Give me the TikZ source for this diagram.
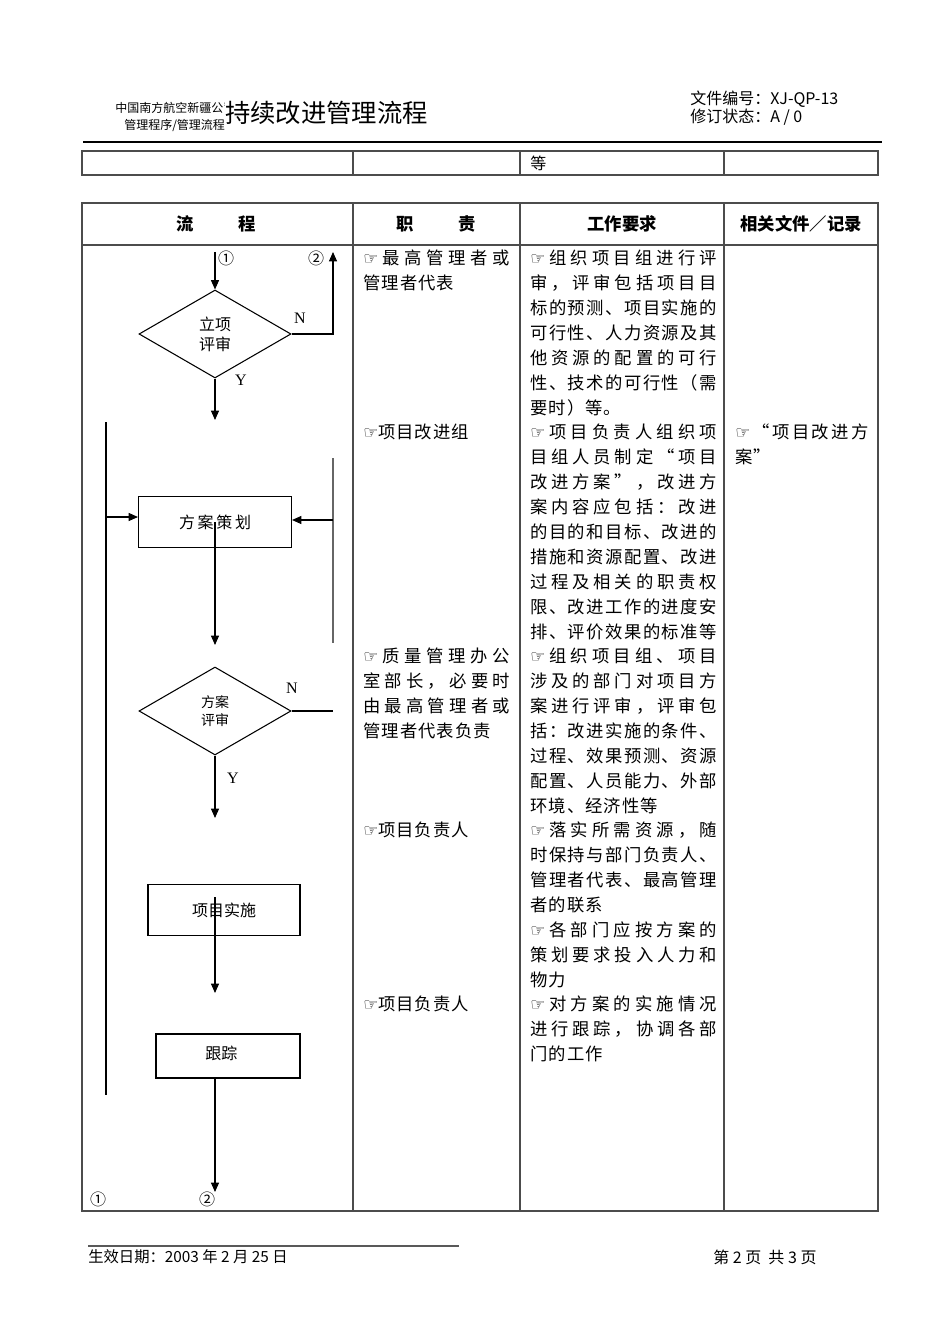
\documentclass[tikz,border=0pt]{standalone}
\usepackage{fontspec}
\setmainfont{Noto Sans CJK SC}
\newfontfamily\cellfont[LetterSpace=6]{Noto Sans CJK SC}
\newfontfamily\symfont{DejaVu Sans}
\newfontfamily\latfont{Liberation Serif}
\usetikzlibrary{shapes.geometric,arrows.meta,positioning}

\newcommand{\hand}{{\symfont\fontsize{12.5}{12}\selectfont ☞}}
% spread the characters of one line over the given width
\ExplSyntaxOn
\NewDocumentCommand{\jl}{O{140pt}m}{
  \tl_set:Ne \l_tmpa_tl { \tl_tail:n {#2} }
  \makebox[#1][s]{ \tl_head:n {#2} \tl_map_inline:Nn \l_tmpa_tl { \hfil ##1 } }
}
\ExplSyntaxOff

\tikzset{
  grid/.style={draw=black!70,line width=1.1pt},
  flow/.style={line width=0.8pt,-{Triangle[length=7pt,width=6pt]}},
  plain/.style={line width=0.8pt},
  decision/.style={draw,line width=0.8pt,diamond,minimum width=114pt,minimum height=66pt,inner sep=0pt,align=center},
  stepbox/.style={draw,line width=0.8pt,rectangle,inner sep=0pt,align=center,font=\fontsize{12}{14}\selectfont},
  cell/.style={anchor=north west,inner sep=0pt,align=left,font=\cellfont\fontsize{13}{18.7}\selectfont},
  yn/.style={inner sep=0pt,font=\latfont\fontsize{12}{12}\selectfont},
  circ/.style={inner sep=0pt,font=\fontsize{12}{12}\selectfont},
  head/.style={inner sep=0pt,font=\bfseries\fontsize{13}{13}\selectfont}
}

\begin{document}
\begin{tikzpicture}[x=0.75pt,y=-0.75pt]
\useasboundingbox (0,0) rectangle (950,1344);

% page header
\node[anchor=west,inner sep=0pt,font=\fontsize{9}{9}\selectfont] (org) at (115,108) {中国南方航空新疆公司};
\node[anchor=west,inner sep=0pt,font=\fontsize{9}{9}\selectfont] (kind) at (124,126) {管理程序/管理流程};
\node[anchor=west,inner sep=0pt,fill=white,font=\fontsize{19}{20}\selectfont] (title) at (225,113) {持续改进管理流程};
\node[anchor=west,inner sep=0pt,font=\fontsize{12}{12}\selectfont] (docno) at (690,99) {文件编号：XJ-QP-13};
\node[anchor=west,inner sep=0pt,font=\fontsize{12}{12}\selectfont] (rev) at (690,117) {修订状态：A / 0};
\draw[line width=1.5pt] (83,142) -- (882,142);

% tail of the previous table
\draw[grid] (82,151) rectangle (878,175);
\foreach \cx in {353,520,724} \draw[grid] (\cx,151) -- (\cx,175);
\node[anchor=west,inner sep=0pt,font=\fontsize{12}{12}\selectfont] (etc) at (530,163) {等};

% main table
\draw[grid] (82,203) rectangle (878,1211);
\draw[grid] (82,245) -- (878,245);
\foreach \cx in {353,520,724} \draw[grid] (\cx,203) -- (\cx,1211);
\node[head] (h1) at (216,224) {流\hspace{2.6em}程};
\node[head] (h2) at (436,224) {职\hspace{2.6em}责};
\node[head] (h3) at (622,224) {工作要求};
\node[head] (h4) at (801,224) {相关文件／记录};

% flow chart
\coordinate (in1) at (215,252);
\coordinate (back2) at (333,252);
\node[decision,font=\fontsize{12}{15}\selectfont] (review1) at (215,334) {立项\\评审};
\coordinate (yes1) at (215,420);
\draw[flow] (in1) -- (review1.north);
\draw[flow] (review1.east) -| (back2);
\draw[flow] (review1.south) -- (yes1);
\node[circ] at (226,258) {①};
\node[circ] at (316,258) {②};
\node[yn] at (300,318) {N};
\node[yn] at (241,380) {Y};

\node[stepbox,minimum width=114.75pt,minimum height=38.25pt] (plan) at (215,522) {方\,案\,策\,划};
\coordinate (lft1) at (106,422);
\coordinate (lft2) at (106,1095);
\coordinate (lftin) at (106,517);
\coordinate (rgt1) at (333,458);
\coordinate (rgt2) at (333,643);
\coordinate (rgtin) at (333,520);
\draw[plain] (lft1) -- (lft2);
\draw[line width=1.2pt,draw=black!60] (rgt1) -- (rgt2);
\draw[flow] (lftin) -- (lftin -| plan.west);
\draw[flow] (rgtin) -- (rgtin -| plan.east);
\coordinate (down2) at (215,645);
\draw[flow] (plan.center) -- (down2);

\node[decision,font=\fontsize{10.5}{13.5}\selectfont] (review2) at (215,711) {方案\\评审};
\coordinate (no2) at (333,711);
\coordinate (yes2) at (215,818);
\draw[plain] (review2.east) -- (no2);
\draw[flow] (review2.south) -- (yes2);
\node[yn] at (292,688) {N};
\node[yn] at (233,778) {Y};

\node[stepbox,minimum width=114pt,minimum height=38.25pt] (impl) at (224,910) {项目实施};
\coordinate (impl1) at (215,897);
\coordinate (impl2) at (215,993);
\draw[flow] (impl1) -- (impl2);

\node[stepbox,minimum width=108pt,minimum height=33pt] (track) at (228,1056) {\raisebox{5pt}{跟踪}\hspace{10pt}};
\coordinate (out2) at (215,1192);
\draw[flow] (track.south -| out2) -- (out2);
\node[circ] at (98,1199) {①};
\node[circ] at (207,1199) {②};

% duties
\node[cell] (duty1) at (363,250) {\jl[110pt]{\hand 最高管理者或}\\管理者代表};
\node[cell] (duty2) at (363,424) {\hand 项目改进组};
\node[cell] (duty3) at (363,648) {\jl[110pt]{\hand 质量管理办公}\\\jl[110pt]{室部长，必要时}\\\jl[110pt]{由最高管理者或}\\管理者代表负责};
\node[cell] (duty4) at (363,822) {\hand 项目负责人};
\node[cell] (duty5) at (363,996) {\hand 项目负责人};

% work requirements
\node[cell] (req1) at (530,250) {\jl{\hand 组织项目组进行评}\\\jl{审，评审包括项目目}\\\jl{标的预测、项目实施的}\\\jl{可行性、人力资源及其}\\\jl{他资源的配置的可行}\\\jl{性、技术的可行性（需}\\要时）等。};
\node[cell] (req2) at (530,424) {\jl{\hand 项目负责人组织项}\\\jl{目组人员制定“项目}\\\jl{改进方案”，改进方}\\\jl{案内容应包括：改进}\\\jl{的目的和目标、改进的}\\\jl{措施和资源配置、改进}\\\jl{过程及相关的职责权}\\\jl{限、改进工作的进度安}\\\jl{排、评价效果的标准等}};
\node[cell] (req3) at (530,648) {\jl{\hand 组织项目组、项目}\\\jl{涉及的部门对项目方}\\\jl{案进行评审，评审包}\\\jl{括：改进实施的条件、}\\\jl{过程、效果预测、资源}\\\jl{配置、人员能力、外部}\\环境、经济性等};
\node[cell] (req4) at (530,822) {\jl{\hand 落实所需资源，随}\\\jl{时保持与部门负责人、}\\\jl{管理者代表、最高管理}\\者的联系\\\jl{\hand 各部门应按方案的}\\\jl{策划要求投入人力和}\\物力};
\node[cell] (req5) at (530,996) {\jl{\hand 对方案的实施情况}\\\jl{进行跟踪，协调各部}\\门的工作};

% related documents
\node[cell] (doc1) at (735,424) {\jl[100pt]{\hand “项目改进方}\\案”};

% page footer
\draw[line width=1.5pt,draw=black!65] (88,1246) -- (459,1246);
\node[anchor=west,inner sep=0pt,font=\fontsize{11.5}{12}\selectfont] (date) at (88,1257) {生效日期：2003 年 2 月 25 日};
\node[anchor=west,inner sep=0pt,font=\fontsize{12}{12}\selectfont] (page) at (713,1257) {第 2 页\ \ 共 3 页};
\end{tikzpicture}
\end{document}
